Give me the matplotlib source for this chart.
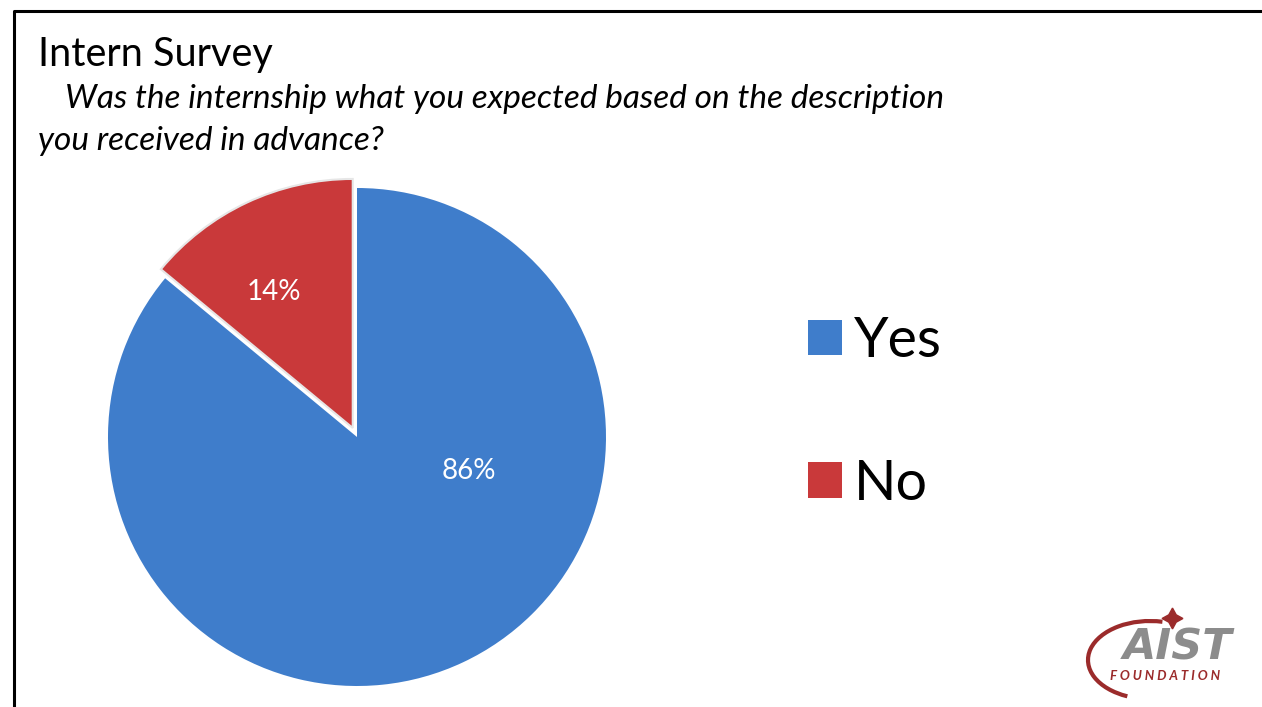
import numpy as np
import matplotlib
matplotlib.use("Agg")
import matplotlib.pyplot as plt
from matplotlib.patches import Arc

# donnees du sondage
categories = ["Yes", "No"]
valeurs = [86, 14]
couleurs = ["#3F7DCB", "#C9393A"]
titre = "Intern Survey"
question = ["Was the internship what you expected based on the description",
            "you received in advance?"]

W, H = 1262, 707
plt.rcParams['font.family'] = ['Lato', 'DejaVu Sans']

fig = plt.figure(figsize=(W / 100, H / 100), dpi=100)
ax = fig.add_axes([0, 0, 1, 1])

def py(y):
    # pixel (haut->bas) vers coordonnees axe
    return H - y

# cadre haut / gauche
ax.plot([14, 14, W], [py(H), py(11), py(11)], color='black', lw=2.2, solid_capstyle='butt')

# titres
ax.text(38, py(66), titre, fontsize=28.5, ha='left', va='baseline')
ax.text(65, py(108), question[0], fontsize=24, style='italic', ha='left', va='baseline')
ax.text(38, py(150), question[1], fontsize=24, style='italic', ha='left', va='baseline')

# camembert
wedges, textes, pcts = ax.pie(valeurs, colors=couleurs, startangle=90, counterclock=False,
                              center=(357, py(437)), radius=249, explode=[0, 10],
                              autopct='%d%%', pctdistance=0.66,
                              textprops=dict(color='white', fontsize=20))
wedges[0].set_edgecolor('none')
wedges[1].set_edgecolor('#E6E6E6')
wedges[1].set_linewidth(1.5)
ax.set_xlim(0, W)
ax.set_ylim(0, H)
ax.set_aspect('equal')
ax.axis('off')
pcts[0].set_position((469, py(471)))
pcts[1].set_position((274, py(292)))
for t in pcts:
    t.set_ha('center')
    t.set_va('center')

# legende
leg = ax.legend(wedges, categories, loc='center left', bbox_to_anchor=(808, py(413)),
                bbox_transform=ax.transData, frameon=False, fontsize=40,
                handlelength=0.61, handleheight=0.61, handletextpad=0.22,
                labelspacing=1.65, borderpad=0, borderaxespad=0)
for p in leg.get_patches():
    p.set_edgecolor('none')

# logo AIST
rouge = '#9B2B2B'
ax.add_patch(Arc((1150, py(660)), 124, 78, theta1=72, theta2=238, color=rouge, lw=3))
ax.plot([1172], [py(618)], marker=(4, 1, 0), markersize=15, color=rouge)
ax.text(1178, py(659), "AIST", fontsize=31, fontweight='bold', style='italic',
        family='DejaVu Sans', color='#8C8C8C', ha='center', va='baseline')
ax.text(1165, py(670), "F O U N D A T I O N", fontsize=9.5, fontweight='bold',
        style='italic', color=rouge, ha='center', va='top')

fig.savefig("out.png", dpi=100)
